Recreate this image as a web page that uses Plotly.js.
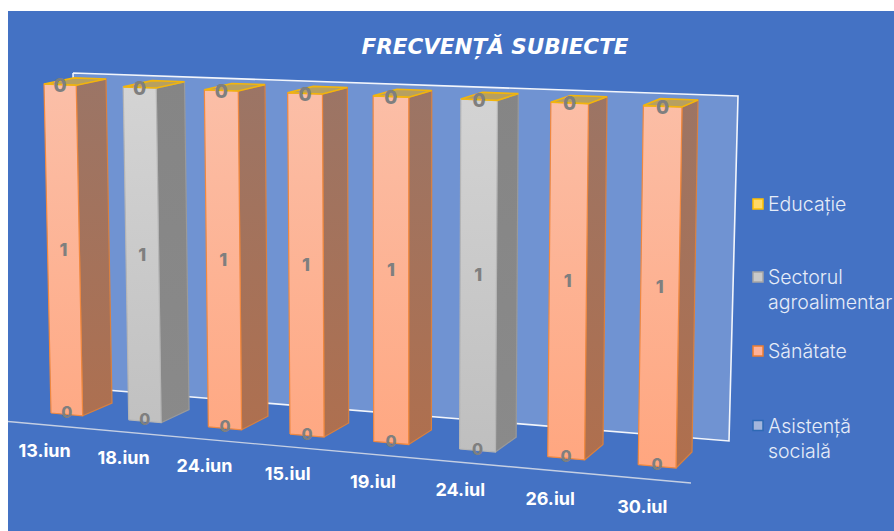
<!DOCTYPE html>
<html><head><meta charset="utf-8">
<script src="https://cdn.plot.ly/plotly-3.0.1.min.js"></script>
<style>html,body{margin:0;padding:0;background:#fff}#c{width:894px;height:531px}</style>
</head><body><div id="c"></div>
<script>
// ---- data ----
const categories = ["13.iun","18.iun","24.iun","15.iul","19.iul","24.iul","26.iul","30.iul"];
const asistenta = [0,0,0,0,0,0,0,0];
const sanatate  = [1,0,1,1,1,0,1,1];
const sector    = [0,1,0,0,0,1,0,0];
const educatie  = [0,0,0,0,0,0,0,0];

// ---- 3D-look projection: category/value -> screen, one homography per depth plane ----
function homography(p0,p1,p2,p3){
  const dx1=p1[0]-p2[0],dx2=p3[0]-p2[0],sx=p0[0]-p1[0]+p2[0]-p3[0];
  const dy1=p1[1]-p2[1],dy2=p3[1]-p2[1],sy=p0[1]-p1[1]+p2[1]-p3[1];
  const den=dx1*dy2-dx2*dy1;
  const g=(sx*dy2-dx2*sy)/den,h=(dx1*sy-sx*dy1)/den;
  const a=p1[0]-p0[0]+g*p1[0],b=p3[0]-p0[0]+h*p3[0],d=p1[1]-p0[1]+g*p1[1],e=p3[1]-p0[1]+h*p3[1];
  return (s,t)=>{const q=g*s+h*t+1;return [(a*s+b*t+p0[0])/q,(d*s+e*t+p0[1])/q];};
}
const W=0.41, N=categories.length-1, vMax=1;
const frontH=homography([51,413],[676,468],[682,107],[44,84]);
const backH =homography([112,403],[692,452],[698,100],[106,79]);
const front=(u,v)=>frontH(u/(N+W),v/vMax);
const back =(u,v)=>backH((u-W)/N,v/vMax);

function polys(vals,base,kind){
  const xs=[],ys=[];
  vals.forEach((val,i)=>{
    const b=base[i],t=b+val;let pts;
    if(kind==='front'){ if(val<=0)return; pts=[front(i,b),front(i+W,b),front(i+W,t),front(i,t)];}
    if(kind==='side'){ if(val<=0)return; pts=[front(i+W,b),back(i+W,b),back(i+W,t),front(i+W,t)];}
    if(kind==='top'){ pts=[front(i,t),front(i+W,t),back(i+W,t),back(i,t)];}
    pts.push(pts[0]);
    pts.forEach(p=>{xs.push(p[0]);ys.push(p[1]);});
    xs.push(null);ys.push(null);
  });
  return {x:xs,y:ys};
}
const base1=asistenta;
const base2=sanatate.map((v,i)=>base1[i]+v);
const base3=sector.map((v,i)=>base2[i]+v);

function face(d,bottom,top,line,width){
  return {x:d.x,y:d.y,mode:'lines',fill:'toself',showlegend:false,hoverinfo:'skip',
    line:{color:line,width:width||1.2},
    fillgradient:{type:'vertical',colorscale:[[0,bottom],[1,top]]}};
}
const wall=[[73,73],[738,96],[729,441],[82,388],[73,73]];
const axisLine=[[8,421.5],[691,483]];

const traces=[
 {x:wall.map(p=>p[0]),y:wall.map(p=>p[1]),mode:'lines',fill:'toself',fillcolor:'rgba(255,255,255,0.24)',
  line:{color:'#F2F5FB',width:1.6},showlegend:false,hoverinfo:'skip'},
 {x:axisLine.map(p=>p[0]),y:axisLine.map(p=>p[1]),mode:'lines',line:{color:'#C5CFE3',width:1.4},showlegend:false,hoverinfo:'skip'},
 face(polys(sanatate,base1,'side'),'#B06F4D','#9B7566','#D9803F'),
 face(polys(sanatate,base1,'front'),'#FFA67F','#FBBFA8','#F0883F'),
 face(polys(sector,base2,'side'),'#8A8A8A','#858585','#9A9A9A'),
 face(polys(sector,base2,'front'),'#BFBFBF','#D4D4D4','#B5B5B5'),
 face(polys(educatie,base3,'top'),'#B7A060','#B7A060','#F2B50C',1.6)
];

// data labels
function labelTrace(pts,texts,size){
  return {x:pts.map(p=>p[0]),y:pts.map(p=>p[1]),text:texts,mode:'text',textposition:'middle center',showlegend:false,hoverinfo:'skip',
    cliponaxis:false,textfont:{family:'Inter, sans-serif',size:size,weight:800,color:'#7F7F7F'}};
}
const main=sanatate.map((v,i)=>v+sector[i]);
traces.push(labelTrace(categories.map((c,i)=>front(i+W/2,asistenta[i])),asistenta.map(String),16));
traces.push(labelTrace(categories.map((c,i)=>front(i+W/2,asistenta[i]+main[i]/2)),main.map(String),18));
traces.push(labelTrace(categories.map((c,i)=>front(i+W/2,base3[i]-0.007)),educatie.map(String),19));

// category labels
const catPts=categories.map((c,i)=>front(i*1.021+W/2-0.30,-0.125));
traces.push({x:catPts.map(p=>p[0]),y:catPts.map(p=>p[1]),text:categories,mode:'text',textposition:'middle center',showlegend:false,hoverinfo:'skip',
  cliponaxis:false,textfont:{family:'Inter, sans-serif',size:18,weight:700,color:'#FFFFFF'}});

// legend
const legendNames=["Educație","Sectorul<br>agroalimentar","Sănătate","Asistență<br>socială"];
const legendFill=['#FFD966','#C9C9C9','#FFB299','#A3B6DC'];
const legendEdge=['#FFC000','#A5A5A5','#ED7D31','#2E69B4'];
const legendY=[204,277,351,425.5];
traces.push({x:legendY.map(()=>758),y:legendY,mode:'markers',showlegend:false,hoverinfo:'skip',
  marker:{symbol:'square',size:10,color:legendFill,line:{color:legendEdge,width:1.5}}});
const annotations=legendNames.map((t,i)=>({xref:'x',yref:'y',x:767,y:legendY[i],xanchor:'left',yanchor:'top',yshift:13,
  text:t,showarrow:false,align:'left',font:{family:'Inter, sans-serif',size:19.5,weight:300,color:'#E6ECF8'},borderpad:0}));

Plotly.newPlot('c',traces,{
  width:894,height:531,
  margin:{l:8,r:0,t:11,b:0,pad:0},
  paper_bgcolor:'#FFFFFF',plot_bgcolor:'#4472C4',
  showlegend:false,
  title:{text:'FRECVENȚĂ SUBIECTE',x:495/894,y:1-46/531,xanchor:'center',yanchor:'middle',
    font:{family:'DejaVu Sans, sans-serif',size:21.5,weight:700,style:'italic',color:'#FFFFFF'}},
  xaxis:{visible:false,range:[8,894],fixedrange:true},
  yaxis:{visible:false,range:[531,11],fixedrange:true},
  annotations:annotations
},{displayModeBar:false,staticPlot:true});
</script></body></html>
